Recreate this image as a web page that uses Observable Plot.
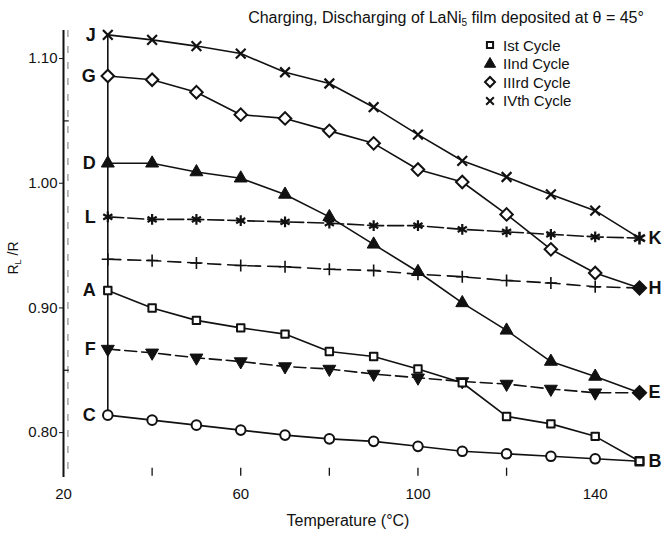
<!DOCTYPE html>
<html><head><meta charset="utf-8">
<script src="https://cdn.jsdelivr.net/npm/d3@7"></script>
<script src="https://cdn.jsdelivr.net/npm/@observablehq/plot@0.6"></script>
<style>
body{margin:0;background:#fff;font-family:"Liberation Sans",Arial,sans-serif;color:#111}
#wrap{position:relative;width:662px;height:535px;overflow:hidden}
#title{position:absolute;left:236px;width:420px;top:9px;text-align:center;font-size:16px;white-space:nowrap}
#title sub{font-size:10px;vertical-align:-3px;line-height:0}
#ylab{position:absolute;left:13px;top:258px;transform:translate(-50%,-50%) rotate(-90deg);font-size:14px;white-space:nowrap}
#ylab sub{font-size:9px;vertical-align:-3px;line-height:0}
#xlab{position:absolute;left:348px;top:512px;transform:translateX(-50%);font-size:16px;white-space:nowrap}
#legend{position:absolute;left:483px;top:36px;font-size:15px}
#legend .row{display:flex;align-items:center;height:18.5px}
#legend svg{width:14px;height:14px;margin-right:6px}
</style></head><body>
<div id="wrap">
 <div id="chart"></div>
 <div id="title">Charging, Discharging of LaNi<sub>5</sub> film deposited at θ = 45°</div>
 <div id="ylab">R<sub>L</sub> /R</div>
 <div id="xlab">Temperature (°C)</div>
 <div id="legend"></div>
</div>
<script>
// ---- data ----
const temps = [30,40,50,60,70,80,90,100,110,120,130,140,150];
const cycle4J   = [1.119,1.115,1.110,1.104,1.089,1.080,1.061,1.039,1.018,1.005,0.991,0.978,0.956];
const cycle3G   = [1.086,1.083,1.073,1.055,1.052,1.042,1.032,1.011,1.001,0.975,0.947,0.928,0.916];
const cycle2D   = [1.016,1.016,1.009,1.004,0.991,0.973,0.951,0.929,0.904,0.882,0.857,0.845,0.832];
const seriesL   = [0.973,0.971,0.971,0.970,0.969,0.968,0.966,0.966,0.963,0.961,0.959,0.957,0.956];
const seriesPlus= [0.939,0.938,0.936,0.934,0.933,0.931,0.930,0.927,0.925,0.922,0.920,0.917,0.916];
const cycle1A   = [0.914,0.900,0.890,0.884,0.879,0.865,0.861,0.851,0.840,0.813,0.807,0.797,0.777];
const seriesF   = [0.867,0.864,0.860,0.857,0.853,0.851,0.847,0.844,0.841,0.839,0.835,0.832,0.832];
const seriesC   = [0.814,0.810,0.806,0.802,0.798,0.795,0.793,0.789,0.785,0.783,0.781,0.779,0.777];

const leftLetters  = ["J","G","D","L","A","F","C"];
const rightLetters = ["K","H","E","B"];
const xTickLabels = [20,60,100,140];
const xMinorTicks = [40,60,80,100,120];
const yTickValues = [0.80,0.90,1.00,1.10];
const yMinorTicks = [1.05,0.85];
const legendLabels = ["Ist Cycle","IInd Cycle","IIIrd Cycle","IVth Cycle"];

// ---- helpers ----
const pts = vals => temps.map((t,i)=>({t, v: vals[i]}));
const INK = "#111";
const line = (vals, dash) => Plot.line(pts(vals), {x:"t", y:"v", stroke:INK, strokeWidth:1.6, strokeDasharray: dash});
const dots = (vals, opts) => Plot.dot(pts(vals).slice(0,-1), {x:"t", y:"v", stroke:INK, ...opts});
const last = vals => [{t: temps[temps.length-1], v: vals[vals.length-1]}];

const leftSeries = [cycle4J, cycle3G, cycle2D, seriesL, cycle1A, seriesF, seriesC];
const rightSeries = [seriesL, seriesPlus, seriesF, seriesC];

const chart = Plot.plot({
  width: 662, height: 535,
  marginLeft: 63, marginRight: 23, marginTop: 30, marginBottom: 58,
  style: {fontFamily: "'Liberation Sans', Arial, sans-serif", fontSize: "15px", color: INK, background: "#fff"},
  x: {domain: [20,150], ticks: xTickLabels, tickSize: 0, tickPadding: 11, label: null, tickFormat: d => String(d)},
  y: {domain: [0.764, 1.1225], ticks: yTickValues, tickFormat: d3.format(".2f"), tickSize: 4, tickPadding: 2, label: null},
  marks: [
    Plot.ruleX([21], {stroke: "#777", strokeWidth: 1, strokeDasharray: "7,9"}),
    Plot.ruleX([20], {stroke: INK, strokeWidth: 2}),
    Plot.ruleY(yMinorTicks, {x1: 20, x2: 21.3, stroke: INK, strokeWidth: 1.2}),
    Plot.ruleX(xMinorTicks, {y1: 0.765, y2: 0.7715, stroke: INK, strokeWidth: 1.3}),
    Plot.ruleX([temps[0]], {y1: seriesC[0], y2: cycle4J[0], stroke: INK, strokeWidth: 1.6}),
    line(cycle4J),
    line(cycle3G),
    line(cycle2D),
    line(seriesL, "16,4"),
    line(seriesPlus, "13,7"),
    line(cycle1A),
    line(seriesF, "12,5"),
    line(seriesC),
    dots(cycle4J, {symbol: "times", r: 4.5, strokeWidth: 2.2}),
    dots(seriesL, {symbol: "asterisk", r: 5, strokeWidth: 2.2}),
    dots(seriesPlus, {symbol: "plus", r: 4, strokeWidth: 1.6}),
    dots(cycle3G, {symbol: "square", rotate: 45, r: 5, fill: "#fff", strokeWidth: 2}),
    dots(cycle2D, {symbol: "triangle", r: 4.8, fill: INK, strokeWidth: 1}),
    dots(seriesF, {symbol: "triangle", rotate: 180, r: 4.8, fill: INK, strokeWidth: 1}),
    dots(cycle1A, {symbol: "square", r: 4.2, fill: "#fff", strokeWidth: 2, strokeLinejoin: "round"}),
    dots(seriesC, {symbol: "circle", r: 4.8, fill: "#fff", strokeWidth: 2}),
    Plot.dot(last(seriesL), {x:"t", y:"v", symbol: "asterisk", r: 6, stroke: INK, strokeWidth: 2.6}),
    Plot.dot(last(seriesPlus), {x:"t", y:"v", symbol: "square", rotate: 45, r: 5.5, fill: INK, stroke: INK}),
    Plot.dot(last(seriesF), {x:"t", y:"v", symbol: "square", rotate: 45, r: 5.5, fill: INK, stroke: INK}),
    Plot.dot(last(seriesC), {x:"t", y:"v", symbol: "square", r: 4.5, fill: "#fff", stroke: INK, strokeWidth: 2.4, strokeLinejoin: "round"}),
    Plot.text(leftLetters.map((s,i)=>({s, t: temps[0], v: leftSeries[i][0]})),
      {x:"t", y:"v", text:"s", textAnchor:"end", dx:-12, fontSize: 18, fontWeight: "bold", fill: INK}),
    Plot.text(rightLetters.map((s,i)=>({s, t: temps[temps.length-1], v: rightSeries[i][rightSeries[i].length-1]})),
      {x:"t", y:"v", text:"s", textAnchor:"start", dx:9, fontSize: 18, fontWeight: "bold", fill: INK})
  ]
});
document.getElementById("chart").appendChild(chart);

// legend
const symDefs = [
  {type: d3.symbolSquare, size: 38, fill: "#fff", sw: 2, rot: 0},
  {type: d3.symbolTriangle, size: 55, fill: INK, sw: 1, rot: 0},
  {type: d3.symbolSquare, size: 50, fill: "#fff", sw: 2, rot: 45},
  {type: d3.symbolTimes, size: 40, fill: "none", sw: 2, rot: 0}
];
const leg = d3.select("#legend");
legendLabels.forEach((lab, i) => {
  const row = leg.append("div").attr("class","row");
  const s = row.append("svg").attr("viewBox","-7 -7 14 14");
  const d = symDefs[i];
  s.append("path").attr("d", d3.symbol(d.type, d.size)())
    .attr("fill", d.fill).attr("stroke", INK).attr("stroke-width", d.sw)
    .attr("transform", `rotate(${d.rot})`);
  row.append("span").text(lab);
});
</script>
</body></html>
